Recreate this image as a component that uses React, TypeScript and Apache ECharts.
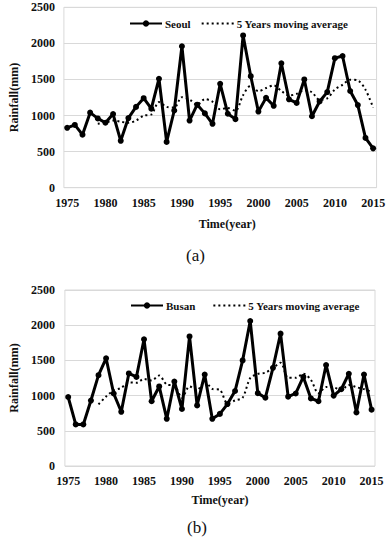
import React, { useEffect, useRef } from "react";
import * as echarts from "echarts";

const years = [
  1975, 1976, 1977, 1978, 1979, 1980, 1981, 1982, 1983, 1984,
  1985, 1986, 1987, 1988, 1989, 1990, 1991, 1992, 1993, 1994,
  1995, 1996, 1997, 1998, 1999, 2000, 2001, 2002, 2003, 2004,
  2005, 2006, 2007, 2008, 2009, 2010, 2011, 2012, 2013, 2014, 2015,
];
const xTickLabels = [1975, 1980, 1985, 1990, 1995, 2000, 2005, 2010, 2015];
const yTickValues = [0, 500, 1000, 1500, 2000, 2500];

const seoulRain = [
  830, 870, 735, 1040, 960, 900, 1020, 650, 965, 1120,
  1240, 1095, 1510, 635, 1070, 1960, 930, 1150, 1030, 885,
  1440, 1025, 950, 2110, 1545, 1055, 1245, 1135, 1725, 1225,
  1175, 1500, 990, 1195, 1325, 1795, 1825, 1340, 1145, 690, 545,
];
// 5-year moving average, 1979..2015
const seoulMA = [
  887, 901, 931, 914, 899, 931, 999, 1014, 1186, 1120,
  1110, 1254, 1221, 1149, 1228, 1191, 1087, 1106, 1066, 1282,
  1414, 1337, 1381, 1418, 1341, 1277, 1301, 1352, 1323, 1217,
  1237, 1361, 1426, 1496, 1486, 1359, 1109,
];

const busanRain = [
  980, 590, 590, 930, 1290, 1530, 1030, 770, 1315, 1265,
  1800, 920, 1130, 670, 1200, 810, 1840, 860, 1300, 670,
  740, 880, 1065, 1500, 2060, 1035, 970, 1395, 1880, 985,
  1030, 1265, 960, 920, 1435, 1000, 1090, 1310, 760, 1300, 800,
];
const busanMA = [
  876, 986, 1074, 1110, 1187, 1182, 1236, 1214, 1286, 1157,
  1144, 970, 1130, 1076, 1202, 1096, 1082, 890, 931, 971,
  1249, 1308, 1326, 1392, 1468, 1253, 1252, 1311, 1224, 1032,
  1122, 1116, 1081, 1151, 1119, 1092, 1052,
];

const maYears = years.slice(4);
const pair = (xs: number[], ys: number[]) => xs.map((x, i) => [x, ys[i]]);

const FONT = "'Liberation Serif', 'Times New Roman', serif";
const GRID_COLOR = "#d9d9d9";

function makeX(gridIndex: number, nameGap: number, namePad: number[]) {
  return {
    type: "value",
    gridIndex,
    min: 1974.57,
    max: 2015.45,
    name: "Time(year)",
    nameLocation: "middle",
    nameGap,
    nameTextStyle: { fontFamily: FONT, fontWeight: "bold", fontSize: 12, color: "#111", padding: namePad },
    axisLine: { show: false },
    axisTick: { show: false },
    splitLine: { show: false },
    axisLabel: {
      customValues: xTickLabels,
      margin: 9,
      fontFamily: FONT,
      fontWeight: "bold",
      fontSize: 12,
      color: "#111",
      formatter: (v: number) => String(Math.round(v)),
    },
  };
}

function makeY(gridIndex: number, nameGap: number, margin: number) {
  return {
    type: "value",
    gridIndex,
    min: 0,
    max: 2500,
    interval: 500,
    name: "Rainfall(mm)",
    nameLocation: "middle",
    nameGap,
    nameTextStyle: { fontFamily: FONT, fontWeight: "bold", fontSize: 12, color: "#111" },
    axisLine: { show: false },
    axisTick: { show: false },
    splitLine: { show: true, lineStyle: { color: GRID_COLOR, width: 1 } },
    axisLabel: {
      margin,
      fontFamily: FONT,
      fontWeight: "bold",
      fontSize: 12,
      color: "#111",
      customValues: yTickValues,
      formatter: (v: number) => String(Math.round(v)),
    },
  };
}

function mainSeries(name: string, data: number[][], idx: number) {
  return {
    name,
    type: "line",
    xAxisIndex: idx,
    yAxisIndex: idx,
    data,
    symbol: "circle",
    symbolSize: 6,
    lineStyle: { color: "#000", width: 3 },
    itemStyle: { color: "#000" },
    z: 3,
  };
}

function maSeries(name: string, data: number[][], idx: number) {
  return {
    name,
    type: "line",
    xAxisIndex: idx,
    yAxisIndex: idx,
    data,
    symbol: "none",
    showSymbol: false,
    smooth: 0.3,
    lineStyle: { color: "#000", width: 2, type: [2, 3] },
    itemStyle: { color: "#000" },
    z: 2,
  };
}

export default function App() {
  const ref = useRef<HTMLDivElement>(null);
  useEffect(() => {
    if (!ref.current) return;
    const chart = echarts.init(ref.current, undefined, { renderer: "svg" });
    const MA_NAME = "5 Years moving average";
    const legendText = { fontFamily: FONT, fontWeight: "bold", fontSize: 11, color: "#111", padding: [0, 0, 0, -2] };
    chart.setOption({
      animation: false,
      backgroundColor: "#fff",
      grid: [
        { left: 52.3, top: 7.3, width: 325.7, height: 180.4, show: true, borderColor: GRID_COLOR, borderWidth: 1 },
        { left: 49, top: 290, width: 326, height: 176, show: true, borderColor: GRID_COLOR, borderWidth: 1 },
      ],
      xAxis: [makeX(0, 30, [0, 0, 0, 14]), makeX(1, 28, [0, 0, 0, 0])],
      yAxis: [makeY(0, 36, 9), makeY(1, 33, 10)],
      legend: [
        {
          left: 124,
          top: 13,
          itemWidth: 32,
          itemHeight: 8,
          itemGap: 10,
          textStyle: legendText,
          data: [{ name: "Seoul" }, { name: MA_NAME, itemStyle: { opacity: 0 } }],
        },
        {
          left: 125,
          top: 295,
          itemWidth: 32,
          itemHeight: 8,
          itemGap: 17,
          textStyle: legendText,
          data: [{ name: "Busan" }, { name: MA_NAME + " ", itemStyle: { opacity: 0 } }],
        },
      ],
      series: [
        mainSeries("Seoul", pair(years, seoulRain), 0),
        maSeries(MA_NAME, pair(maYears, seoulMA), 0),
        mainSeries("Busan", pair(years, busanRain), 1),
        maSeries(MA_NAME + " ", pair(maYears, busanMA), 1),
      ],
      graphic: [
        {
          type: "text",
          left: 186,
          top: 247,
          style: { text: "(a)", font: "17px " + FONT, fill: "#111" },
        },
        {
          type: "text",
          left: 187,
          top: 519,
          style: { text: "(b)", font: "17px " + FONT, fill: "#111" },
        },
      ],
    });
    return () => chart.dispose();
  }, []);
  return (
    <div
      ref={ref}
      style={{ position: "fixed", left: 0, top: 0, width: 388, height: 550, background: "#fff" }}
    />
  );
}
